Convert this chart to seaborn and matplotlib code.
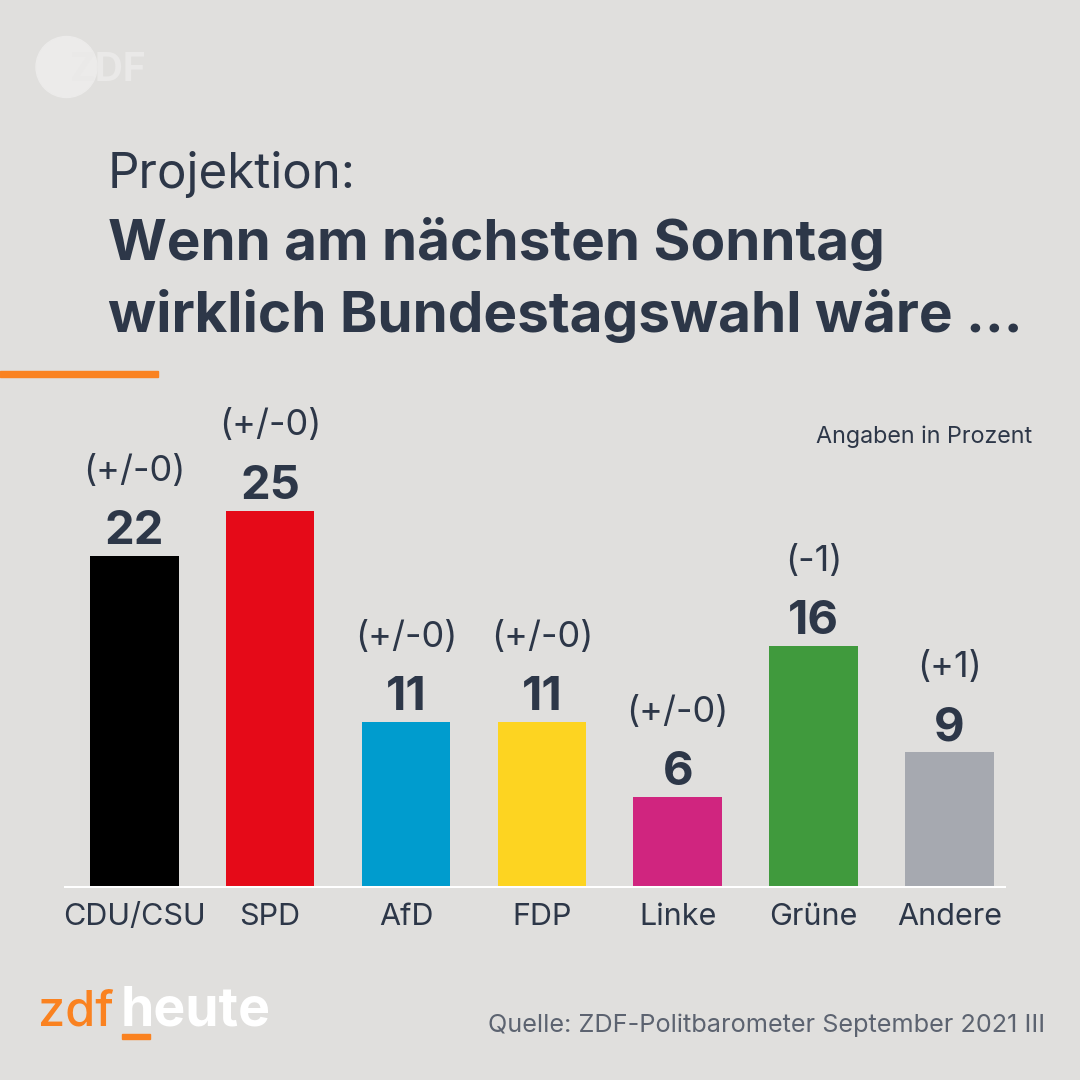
import matplotlib.pyplot as plt
import matplotlib.patches as mpatches
import pandas as pd
import seaborn as sns

# Daten: Projektion Politbarometer September 2021 III
parteien = ["CDU/CSU", "SPD", "AfD", "FDP", "Linke", "Grüne", "Andere"]
prozent = [22, 25, 11, 11, 6, 16, 9]
veraenderung = ["(+/-0)", "(+/-0)", "(+/-0)", "(+/-0)", "(+/-0)", "(-1)", "(+1)"]
farben = ["#000000", "#E50A18", "#009CCE", "#FDD421", "#D0257F", "#409A3D", "#A6A9B0"]

BG = "#E0DFDD"
TEXT = "#2D3748"
ORANGE = "#FA8220"
W, H = 1080, 1080


def fx(x):
    return x / W


def fy(y):
    return 1 - y / H


sns.set_theme(style="white")
plt.rcParams["font.family"] = ["Inter", "DejaVu Sans"]

df = pd.DataFrame({"Partei": parteien, "Prozent": prozent})

fig = plt.figure(figsize=(10.8, 10.8), dpi=100, facecolor=BG)
ax = fig.add_axes([fx(64), fy(888), 942 / W, 488 / H])
ax.set_facecolor(BG)

sns.barplot(data=df, x="Partei", y="Prozent", hue="Partei",
            palette=dict(zip(parteien, farben)), width=0.652,
            saturation=1, legend=False, linewidth=0, edgecolor="none", ax=ax)

ax.set_xlim(-0.5175, 6.4167)
ax.set_ylim(0, 488 / 15.1)
ax.axhline(0, color="white", lw=2.9, zorder=5)
for s in ax.spines.values():
    s.set_visible(False)
ax.set_yticks([])
ax.set_xlabel("")
ax.set_ylabel("")
ax.tick_params(axis="x", length=0, pad=10.5, labelsize=22, labelcolor=TEXT)

# Werte und Veränderung über den Balken
for i, (w, d) in enumerate(zip(prozent, veraenderung)):
    ax.annotate(str(w), (i, w), xytext=(0, 8.6), textcoords="offset points",
                ha="center", va="baseline", fontsize=34, fontweight="bold",
                color=TEXT)
    ax.annotate(d, (i, w), xytext=(0, 54), textcoords="offset points",
                ha="center", va="baseline", fontsize=26, color=TEXT)

# Überschrift
fig.text(fx(108), fy(188), "Projektion:", fontsize=35.5, color=TEXT,
         va="baseline")
fig.text(fx(108), fy(260), "Wenn am nächsten Sonntag", fontsize=40.8,
         fontweight="bold", color=TEXT, va="baseline")
fig.text(fx(108), fy(332), "wirklich Bundestagswahl wäre ...", fontsize=40.8,
         fontweight="bold", color=TEXT, va="baseline")
fig.add_artist(mpatches.Rectangle((0, fy(377)), fx(158), 6 / H,
                                  transform=fig.transFigure, color=ORANGE))

fig.text(fx(1032), fy(443), "Angaben in Prozent", fontsize=16.8, color=TEXT,
         ha="right", va="baseline")

# Quelle
fig.text(fx(1045), fy(1032), "Quelle: ZDF-Politbarometer September 2021 III",
         fontsize=18.2, color="#5C6370", ha="right", va="baseline")

# Logos
fig.add_artist(mpatches.Circle((fx(66.5), fy(67)), 30.5 / W,
                               transform=fig.transFigure, color="#ECEBEA"))
fig.text(fx(70), fy(81), "ZDF", fontsize=28, fontweight="bold",
         color="#EAE9E8", va="baseline")

fig.text(fx(38), fy(1025), "zdf", fontsize=35, fontweight="medium",
         color=ORANGE, va="baseline")
fig.text(fx(121), fy(1025), "heute", fontsize=38.5, fontweight="bold",
         color="white", va="baseline")
fig.add_artist(mpatches.Rectangle((fx(122), fy(1039)), 28 / W, 5 / H,
                                  transform=fig.transFigure, color=ORANGE))

fig.savefig("out.png", dpi=100, facecolor=BG)
